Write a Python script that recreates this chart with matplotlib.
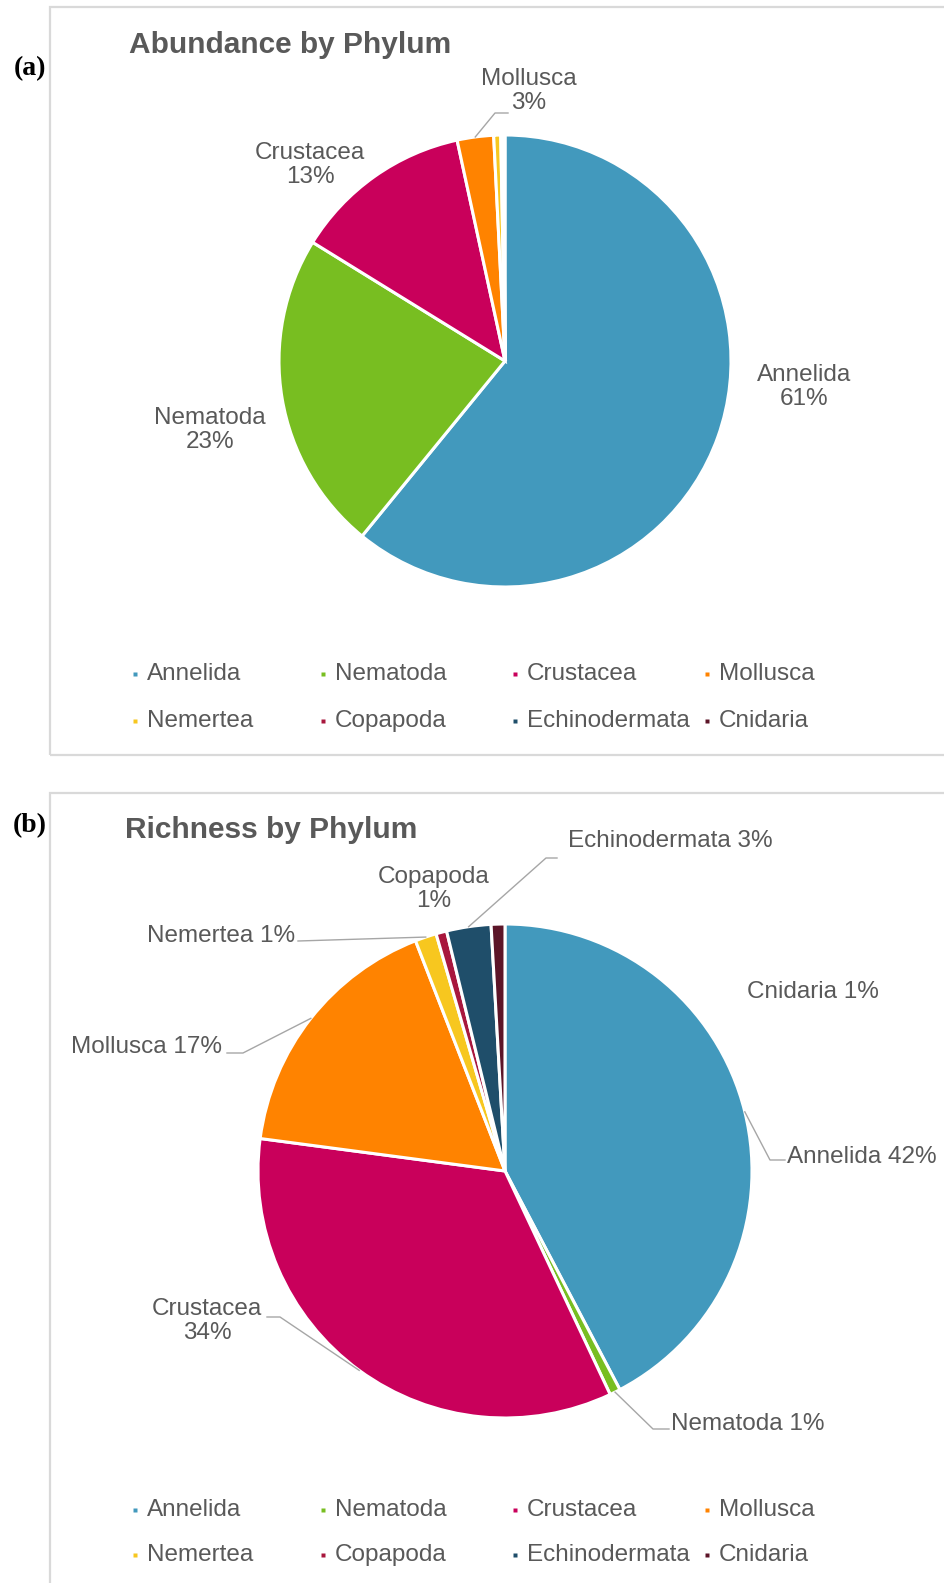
import numpy as np
import matplotlib.pyplot as plt
from matplotlib.patches import Rectangle

# phylum composition of the samples
phyla = ['Annelida', 'Nematoda', 'Crustacea', 'Mollusca',
         'Nemertea', 'Copapoda', 'Echinodermata', 'Cnidaria']
colors = ['#4299BD', '#78BE21', '#C9005B', '#FF8300',
          '#F7C71F', '#A8173D', '#1F4E6A', '#5C1528']
abundance = [60.9, 22.9, 12.8, 2.6, 0.5, 0.1, 0.1, 0.1]
richness = [42.3, 0.7, 34.1, 17.0, 1.4, 0.7, 2.9, 0.9]

W, H = 945, 1583
TXT = '#595959'
LINE = '#A6A6A6'
FONT = 'Liberation Sans'

fig = plt.figure(figsize=(W / 100, H / 100), dpi=100)
ax = fig.add_axes([0, 0, 1, 1])


def pct(vals, i):
    return '%.0f%%' % (100.0 * vals[i] / sum(vals))


def panel(tag, tag_y, title, title_x, title_y, box, vals, cx, cy, r,
          labels, legend_rows):
    top, bottom = box
    ax.add_patch(Rectangle((50, H - bottom), 920, bottom - top, fill=False,
                           ec='#D9D9D9', lw=1.6, zorder=0))
    ax.text(30, H - tag_y, tag, family='Liberation Serif', weight='bold',
            fontsize=20, ha='center', va='center', color='black')
    ax.text(title_x, H - title_y, title, family=FONT, weight='bold',
            fontsize=21.5, color=TXT, ha='left', va='center')

    wedges, _ = ax.pie(vals, colors=colors, startangle=90, counterclock=False,
                       center=(cx, H - cy), radius=r,
                       wedgeprops=dict(edgecolor='white', linewidth=2.2))

    for i, (x, y, ha, two_line, leader) in labels.items():
        txt = phyla[i] + ('\n' if two_line else ' ') + pct(vals, i)
        ax.text(x, H - y, txt, family=FONT, fontsize=17.5, color=TXT,
                ha=ha, va='center', multialignment='center', linespacing=1.1)
        if leader:
            w = wedges[i]
            th = np.radians((w.theta1 + w.theta2) / 2)
            ax_ = w.center[0] + w.r * np.cos(th)
            ay_ = w.center[1] + w.r * np.sin(th)
            xs = [p[0] for p in leader] + [ax_]
            ys = [H - p[1] for p in leader] + [ay_]
            ax.plot(xs, ys, color=LINE, lw=1)

    # legend, four per row
    col_x = [135, 323, 515, 707]
    for k, name in enumerate(phyla):
        x = col_x[k % 4]
        y = H - legend_rows[k // 4]
        ax.plot(x, y, marker='s', ms=3.5, color=colors[k], mec='none')
        ax.text(x + 12, y, name, family=FONT, fontsize=17.5, color=TXT,
                ha='left', va='center')


labels_a = {
    0: (804, 387, 'center', True, None),
    1: (210, 430, 'center', True, None),
    2: (310, 165, 'center', True, None),
    3: (529, 91, 'center', True, [(508, 113), (495, 113)]),
}
panel('(a)', 69, 'Abundance by Phylum', 129, 45, (7, 755), abundance,
      505, 361, 226, labels_a, [674, 721])

labels_b = {
    0: (787, 1157, 'left', False, [(785, 1160), (770, 1160)]),
    1: (671, 1424, 'left', False, [(669, 1429), (653, 1429)]),
    2: (207, 1321, 'center', True, [(267, 1317), (280, 1317)]),
    3: (222, 1047, 'right', False, [(227, 1053), (243, 1053)]),
    4: (295, 936, 'right', False, [(298, 941)]),
    5: (434, 889, 'center', True, None),
    6: (568, 841, 'left', False, [(557, 858), (546, 858)]),
    7: (747, 992, 'left', False, None),
}
panel('(b)', 826, 'Richness by Phylum', 125, 830, (793, 1600), richness,
      505, 1171, 247, labels_b, [1510, 1555])

ax.set_xlim(0, W)
ax.set_ylim(0, H)
ax.set_aspect('auto')
ax.axis('off')

fig.savefig('out.png', dpi=100, facecolor='white')
